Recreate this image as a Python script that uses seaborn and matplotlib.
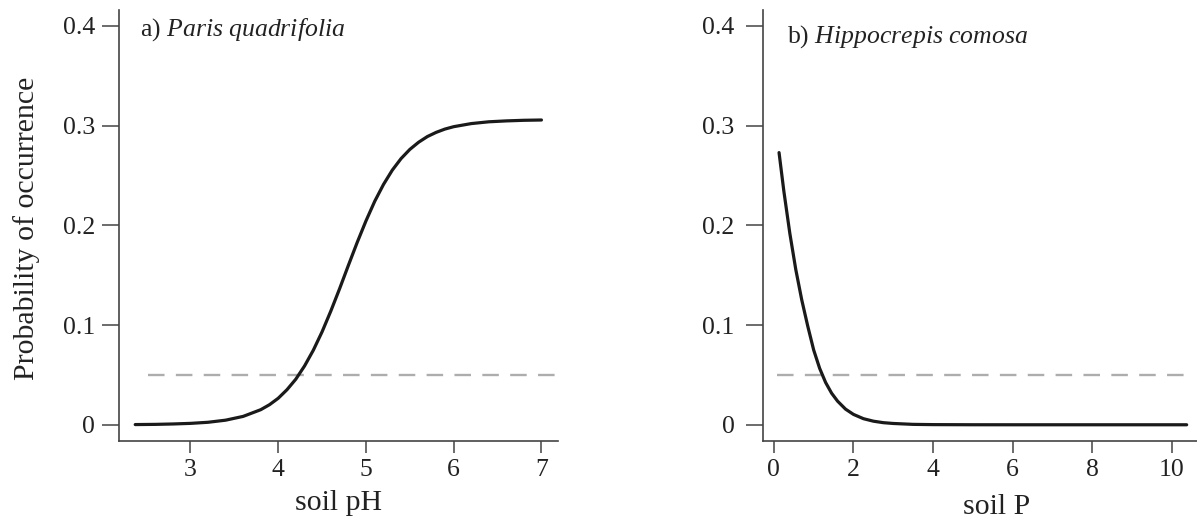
import matplotlib
matplotlib.use("Agg")
import matplotlib.pyplot as plt
import seaborn as sns

# ---------------- data ----------------
ph_x = [2.37, 2.6, 2.8, 3.0, 3.2, 3.4, 3.6, 3.8, 3.9, 4.0, 4.1, 4.2, 4.3, 4.4,
        4.5, 4.6, 4.7, 4.8, 4.9, 5.0, 5.1, 5.2, 5.3, 5.4, 5.5, 5.6, 5.7, 5.8,
        5.9, 6.0, 6.2, 6.4, 6.6, 6.8, 7.0]
ph_y = [0.0002, 0.0004, 0.0008, 0.0014, 0.0025, 0.0046, 0.0084, 0.0151, 0.0201,
        0.0266, 0.0352, 0.0457, 0.0590, 0.0748, 0.0933, 0.1142, 0.1366, 0.1600,
        0.1829, 0.2045, 0.2242, 0.2411, 0.2554, 0.2670, 0.2762, 0.2834, 0.2891,
        0.2933, 0.2966, 0.2990, 0.3021, 0.3039, 0.3048, 0.3054, 0.3057]

p_x = [0.13, 0.25, 0.4, 0.55, 0.7, 0.85, 1.0, 1.15, 1.3, 1.45, 1.6, 1.8, 2.0,
       2.25, 2.5, 2.75, 3.0, 3.5, 4.0, 5.0, 6.0, 8.0, 10.37]
p_y = [0.273, 0.2345, 0.1922, 0.1558, 0.1253, 0.0991, 0.0750, 0.0566, 0.0424,
       0.0317, 0.0237, 0.0157, 0.0104, 0.0061, 0.0036, 0.0021, 0.0013, 0.0004,
       0.00015, 0.00002, 0.0, 0.0, 0.0]

threshold = 0.05
thr_x_left = [2.52, 7.25]
thr_x_right = [0.08, 10.3]

y_ticks = [0, 0.1, 0.2, 0.3, 0.4]
y_ticklabels = ["0", "0.1", "0.2", "0.3", "0.4"]
ph_ticks = [3, 4, 5, 6, 7]
p_ticks = [0, 2, 4, 6, 8, 10]

titles = ["a) ", "b) "]
species = ["Paris quadrifolia", "Hippocrepis comosa"]
xlabels = ["soil pH", "soil P"]
ylabel = "Probability of occurrence"

# ---------------- style ----------------
sns.set_theme(style="ticks")
plt.rcParams["font.family"] = ["Liberation Serif", "DejaVu Serif"]
plt.rcParams["mathtext.fontset"] = "custom"
plt.rcParams["mathtext.rm"] = "Liberation Serif"
plt.rcParams["mathtext.it"] = "Liberation Serif:italic"

axis_col = "#444444"
text_col = "#222222"

fig = plt.figure(figsize=(11.97, 5.28), dpi=100)
ax1 = fig.add_axes([0.0994, 0.1653, 0.3665, 0.8157])
ax2 = fig.add_axes([0.6372, 0.1653, 0.3678, 0.8157])

panels = [
    (ax1, ph_x, ph_y, thr_x_left, (2.185, 7.185), ph_ticks, 0.048, 0.9397, 5, -0.1154, 0.5),
    (ax2, p_x, p_y, thr_x_right, (-0.28, 10.78), p_ticks, 0.056, 0.9246, 8, -0.124, 0.532),
]

for i, (ax, xs, ys, thx, xlim, xt, tx, ty, ypad, xly, xlx) in enumerate(panels):
    sns.lineplot(x=thx, y=[threshold, threshold], ax=ax, color="#adadad",
                 lw=1.7, linestyle=(0, (7.0, 4.8)), sort=False)
    sns.lineplot(x=xs, y=ys, ax=ax, color="#1a1a1a", lw=2.3, sort=False)
    ax.set_xlim(*xlim)
    ax.set_ylim(-0.016, 0.416)
    ax.set_yticks(y_ticks)
    ax.set_yticklabels(y_ticklabels)
    ax.set_xticks(xt)
    ax.set_xticklabels([str(v) for v in xt])
    for s in ["top", "right"]:
        ax.spines[s].set_visible(False)
    for s in ["left", "bottom"]:
        ax.spines[s].set_color(axis_col)
        ax.spines[s].set_linewidth(1.2)
    ax.tick_params(axis="y", direction="out", length=12.2, width=1.1,
                   color=axis_col, labelsize=18.5, labelcolor=text_col, pad=ypad)
    ax.tick_params(axis="x", direction="out", length=8.4, width=1.1,
                   color=axis_col, labelsize=18.5, labelcolor=text_col, pad=5)
    ax.set_xlabel(xlabels[i], fontsize=21.5, color=text_col)
    ax.xaxis.set_label_coords(xlx, xly)
    ax.set_ylabel("")
    ax.text(tx, ty, titles[i] + r"$\mathit{" + species[i].replace(" ", r"\ ") + "}$",
            transform=ax.transAxes, fontsize=18.5, color=text_col,
            ha="left", va="baseline")

ax1.set_ylabel(ylabel, fontsize=21.5, color=text_col)
ax1.yaxis.set_label_coords(-0.181, 0.4927)

fig.savefig("out.png", dpi=100)
